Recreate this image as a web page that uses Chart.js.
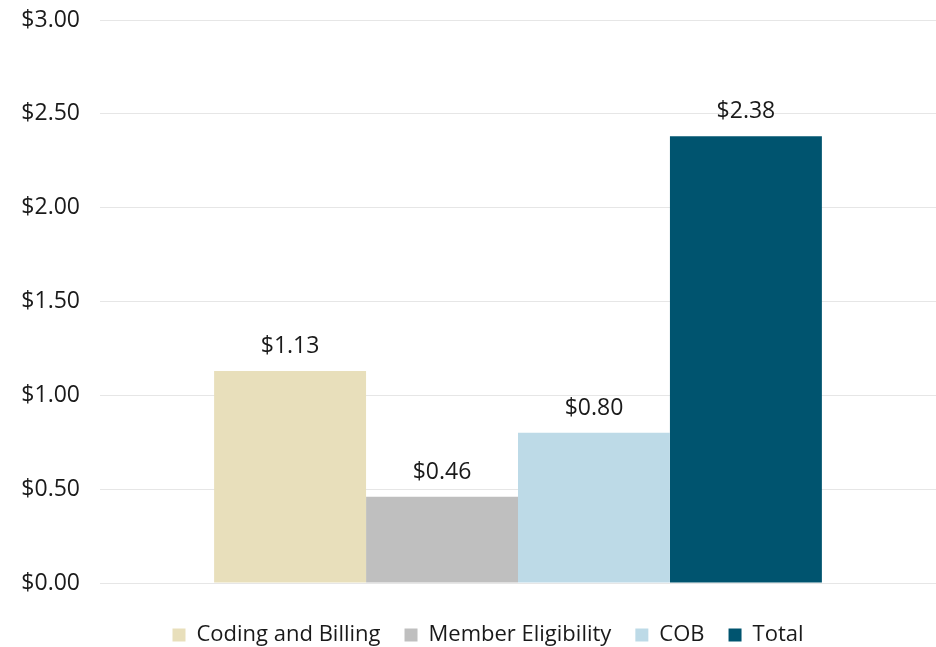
<!DOCTYPE html>
<html>
<head>
<meta charset="utf-8">
<script src="https://cdn.jsdelivr.net/npm/chart.js@4"></script>
<style>
  html, body { margin: 0; padding: 0; background: #fff; overflow: hidden; }
</style>
</head>
<body>
<canvas id="myChart" width="936" height="656"></canvas>
<script>
const categories = [''];
const seriesNames = ['Coding and Billing', 'Member Eligibility', 'COB', 'Total'];
const seriesValues = [[1.13], [0.46], [0.80], [2.38]];
const seriesColors = ['#e8dfbb', '#bfbfbf', '#bddae7', '#00546f'];
const tickValues = [0, 0.5, 1, 1.5, 2, 2.5, 3];

const money = v => '$' + Number(v).toFixed(2);

// labels above each bar
const valueLabels = {
  id: 'valueLabels',
  afterDatasetsDraw(chart) {
    const ctx = chart.ctx;
    ctx.save();
    ctx.font = '23px "Open Sans"';
    ctx.fillStyle = '#1a1a1a';
    ctx.textAlign = 'center';
    ctx.textBaseline = 'bottom';
    chart.data.datasets.forEach((ds, i) => {
      chart.getDatasetMeta(i).data.forEach((bar, j) => {
        ctx.fillText(money(ds.data[j]), bar.x, bar.y - 13);
      });
    });
    ctx.restore();
  }
};

// legend sits a bit right of the canvas centre in the original
const legendShift = {
  id: 'legendShift',
  afterLayout(chart) {
    chart.legend.left += 20;
    chart.legend.right += 20;
  }
};

Chart.defaults.font.family = '"Open Sans", sans-serif';
Chart.defaults.font.size = 23;
Chart.defaults.color = '#1a1a1a';

var ctx = document.getElementById('myChart');
var myChart = new Chart(ctx, {
  type: 'bar',
  data: {
    labels: categories,
    datasets: seriesNames.map((name, i) => ({
      label: name,
      data: seriesValues[i],
      backgroundColor: seriesColors[i],
      barPercentage: 1,
      categoryPercentage: 0.727
    }))
  },
  options: {
    responsive: false,
    animation: false,
    devicePixelRatio: 1,
    layout: { padding: { top: 20, right: 0, bottom: 0, left: 0 } },
    plugins: {
      legend: {
        position: 'bottom',
        labels: {
          boxWidth: 13,
          boxHeight: 13,
          padding: 24,
          color: '#1a1a1a',
          font: { size: 22 }
        }
      },
      tooltip: { enabled: false }
    },
    scales: {
      x: {
        display: true,
        afterFit(scale) { scale.height = 17; },
        grid: { display: false },
        border: { display: false },
        ticks: { display: false }
      },
      y: {
        min: 0,
        max: 3,
        afterFit(scale) {
          scale.width = 100;
          scale.paddingTop = 0;
        },
        afterBuildTicks(scale) { scale.ticks = tickValues.map(v => ({ value: v })); },
        border: { display: false },
        grid: { color: '#e6e6e6', drawTicks: false },
        ticks: {
          padding: 20,
          callback: v => money(v)
        }
      }
    }
  },
  plugins: [valueLabels, legendShift]
});
</script>
</body>
</html>
